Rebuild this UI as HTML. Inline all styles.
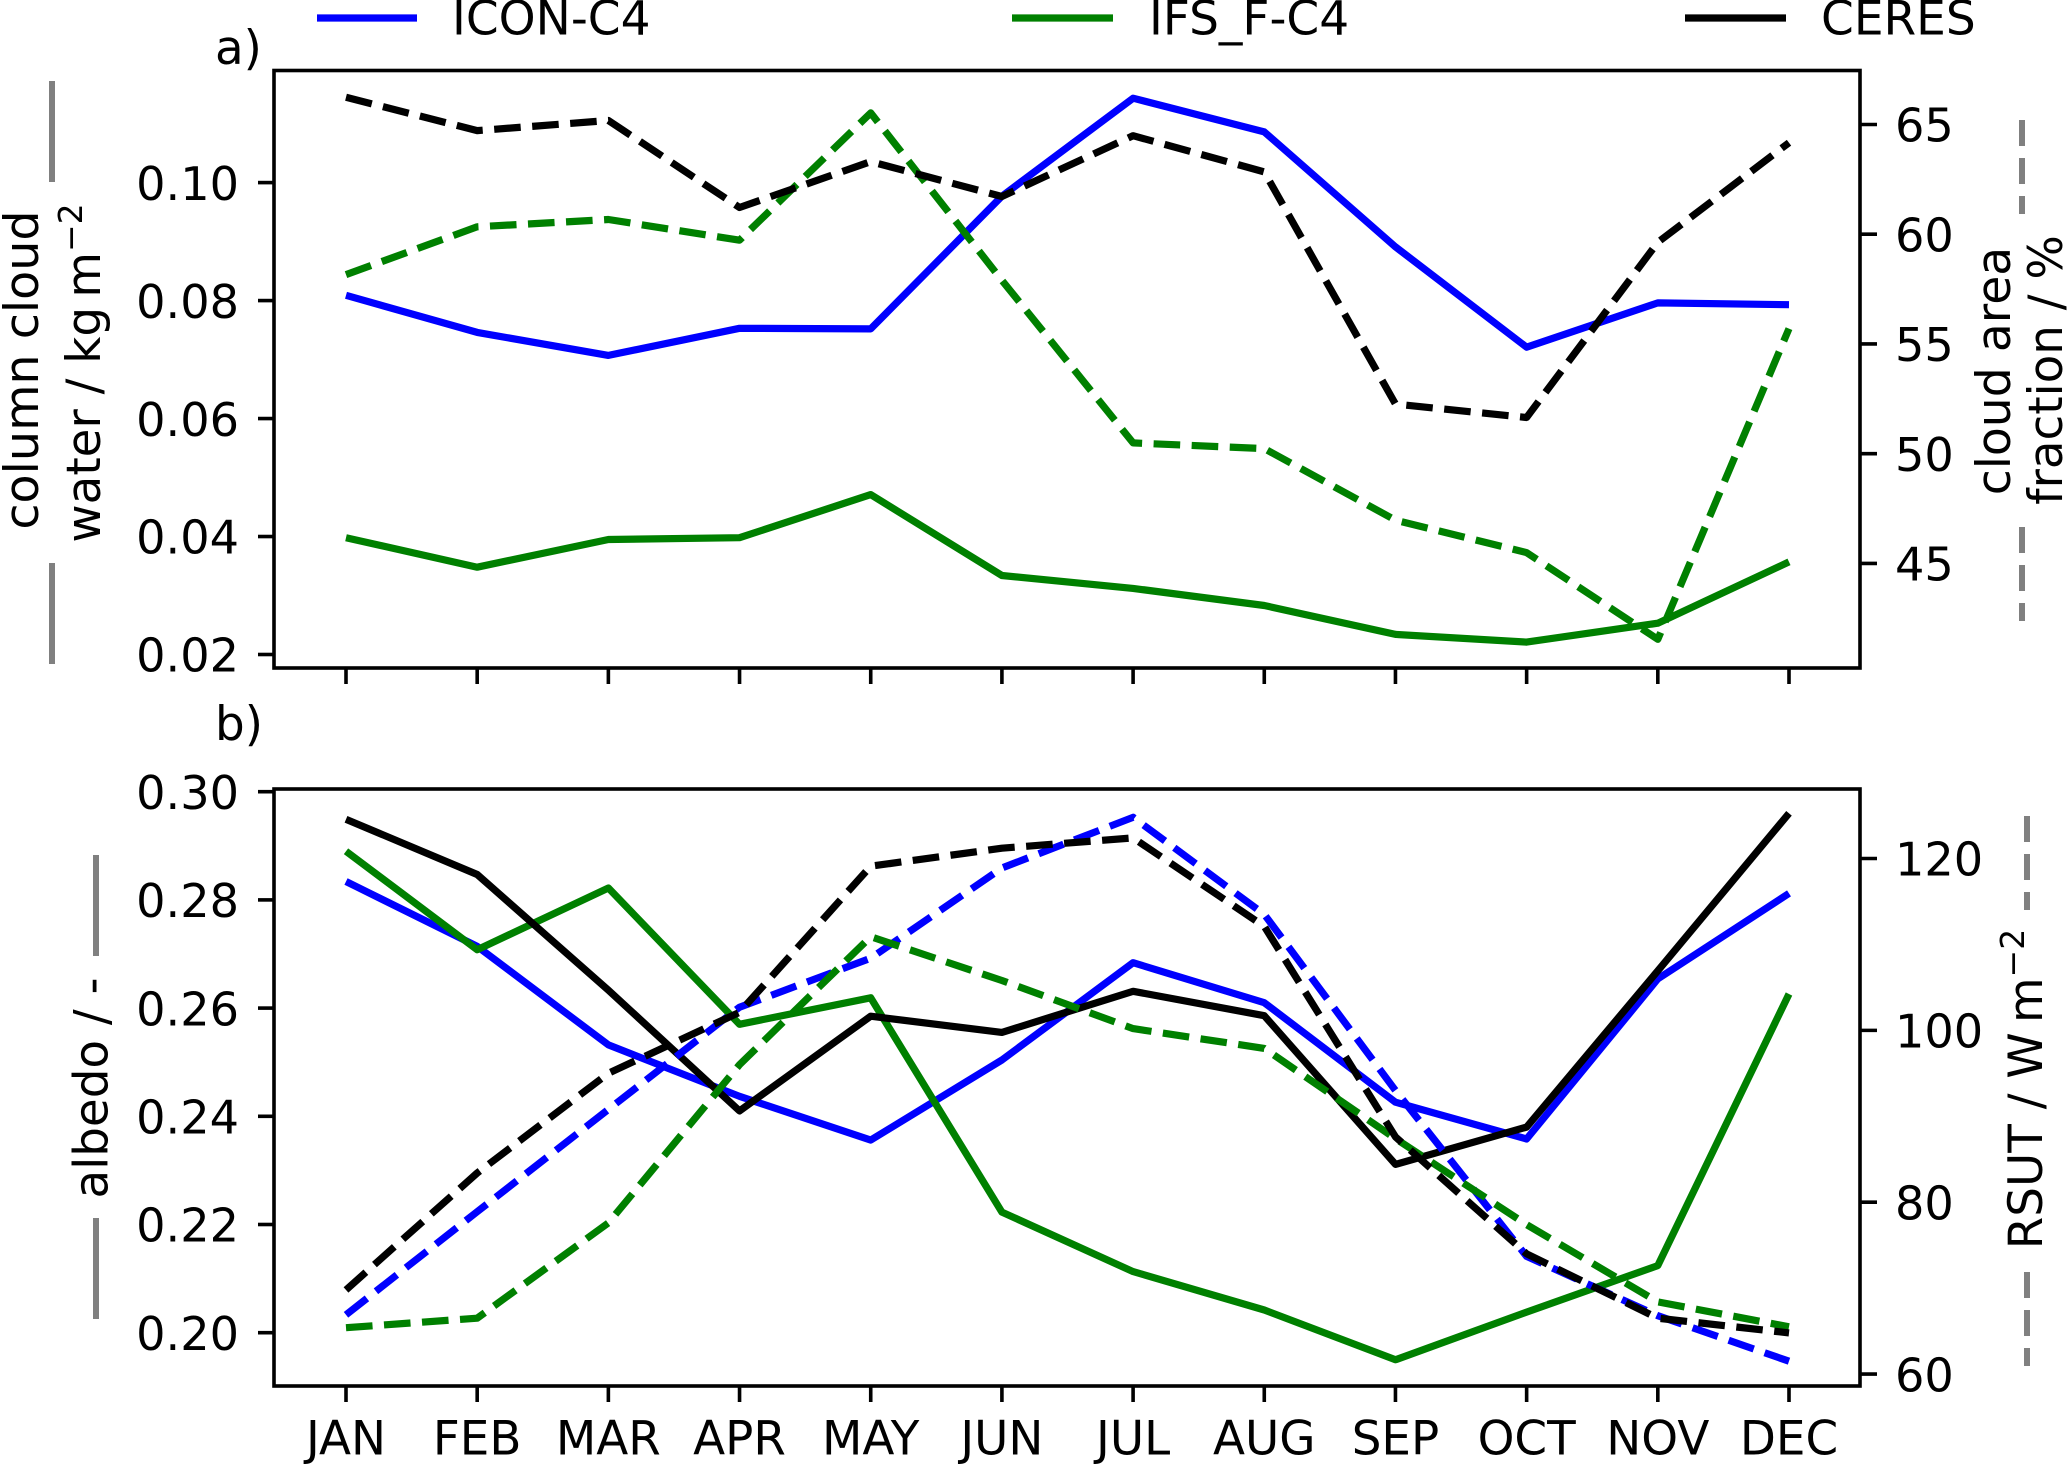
<!DOCTYPE html>
<html lang="en">
<head>
<meta charset="utf-8">
<title>Monthly cloud water, cloud fraction, albedo and RSUT</title>
<style>
html,body{margin:0;padding:0;background:#fff;width:2067px;height:1465px;overflow:hidden}
svg{display:block}
text{font-family:"DejaVu Sans","Liberation Sans",sans-serif;font-size:46.8px;fill:#000}
</style>
</head>
<body>
<svg id="chart" xmlns="http://www.w3.org/2000/svg" width="2067" height="1465" viewBox="0 0 2067 1465">
  <rect x="0" y="0" width="2067" height="1465" fill="#fff"/>

  <g>
    <line x1="317" x2="417" y1="18" y2="18" stroke="#0000ff" stroke-width="7.2"/>
    <text x="452" y="34.5" font-size="47" style="font-size:47px">ICON-C4</text>
    <line x1="1012" x2="1113" y1="18" y2="18" stroke="#008000" stroke-width="7.2"/>
    <text x="1149" y="34.5" style="font-size:47px">IFS_F-C4</text>
    <line x1="1685" x2="1786" y1="18" y2="18" stroke="#000" stroke-width="7.2"/>
    <text x="1821" y="34.5" style="font-size:47px">CERES</text>
  </g>

  <text x="215" y="64">a)</text>
  <text x="215" y="740">b)</text>

  <g>
    <text text-anchor="middle" transform="translate(38,370) rotate(-90)" style="font-size:47.6px">column cloud</text>
    <text text-anchor="middle" transform="translate(100,373) rotate(-90)">water / kg&#8201;m<tspan dy="-18" style="font-size:33px">−2</tspan></text>
    <line x1="52" x2="52" y1="81" y2="182" stroke="#808080" stroke-width="6"/>
    <line x1="52" x2="52" y1="563" y2="664" stroke="#808080" stroke-width="6"/>
  </g>
  <g>
    <text text-anchor="middle" transform="translate(2010,371) rotate(-90)" style="font-size:47.3px">cloud area</text>
    <text text-anchor="middle" transform="translate(2062,370) rotate(-90)">fraction / %</text>
    <line x1="2022" x2="2022" y1="120" y2="214" stroke="#808080" stroke-width="6" stroke-dasharray="26 12"/>
    <line x1="2022" x2="2022" y1="527" y2="621" stroke="#808080" stroke-width="6" stroke-dasharray="26 12"/>
  </g>
  <g>
    <text text-anchor="middle" transform="translate(107.5,1088) rotate(-90)">albedo / -</text>
    <line x1="96" x2="96" y1="855" y2="956" stroke="#808080" stroke-width="6"/>
    <line x1="96" x2="96" y1="1218" y2="1319" stroke="#808080" stroke-width="6"/>
  </g>
  <g>
    <text text-anchor="middle" transform="translate(2042,1089) rotate(-90)">RSUT / W&#8201;m<tspan dy="-18" style="font-size:33px">−2</tspan></text>
    <line x1="2027" x2="2027" y1="816" y2="910" stroke="#808080" stroke-width="6" stroke-dasharray="26 12"/>
    <line x1="2027" x2="2027" y1="1272" y2="1366" stroke="#808080" stroke-width="6" stroke-dasharray="26 12"/>
  </g>
  <g id="plots"></g>
</svg>
<script>
const months = ['JAN','FEB','MAR','APR','MAY','JUN','JUL','AUG','SEP','OCT','NOV','DEC'];

const cloudWaterTicks = [0.02,0.04,0.06,0.08,0.10];
const cloudFractionTicks = [45,50,55,60,65];
const albedoTicks = [0.20,0.22,0.24,0.26,0.28,0.30];
const rsutTicks = [60,80,100,120];

const cloudWaterIcon = [0.0809,0.0746,0.0707,0.0753,0.0752,0.0977,0.1143,0.1086,0.0891,0.0721,0.0796,0.0793];
const cloudWaterIfs = [0.0398,0.0348,0.0395,0.0398,0.0471,0.0334,0.0312,0.0283,0.0234,0.0221,0.0253,0.0357];
const cloudFractionIfs = [58.16,60.34,60.67,59.73,65.53,57.9,50.49,50.23,46.97,45.49,41.54,55.7];
const cloudFractionCeres = [66.24,64.72,65.18,61.22,63.31,61.72,64.49,62.84,52.26,51.65,59.63,64.17];

const albedoIcon = [0.2834,0.2714,0.2532,0.2437,0.2356,0.2504,0.2684,0.2610,0.2426,0.2358,0.2654,0.2812];
const albedoIfs = [0.2890,0.2708,0.2822,0.2570,0.2619,0.2223,0.2113,0.2042,0.1950,0.2038,0.2124,0.2626];
const albedoCeres = [0.2949,0.2847,0.2633,0.2410,0.2585,0.2555,0.2631,0.2586,0.2311,0.2380,0.2669,0.2960];
const rsutIcon = [66.9,78.9,90.8,102.7,108.4,118.9,124.8,113.5,93.0,73.7,66.8,61.5];
const rsutIfs = [65.4,66.5,77.6,96.0,110.9,105.8,100.2,97.9,87.4,77.4,68.4,65.5];
const rsutCeres = [69.8,83.4,95.0,102.1,119.1,121.2,122.4,112.1,87.6,74.0,66.5,64.8];

const BLUE = '#0000ff', GREEN = '#008000', BLACK = '#000000';
const PLOT_LEFT = 274, PLOT_RIGHT = 1860;
const SVG_NS = 'http://www.w3.org/2000/svg';

function xMonth(i){ return 346 + i * (1789 - 346) / 11; }
function yCloudWater(v){ return 654.5 - (v - 0.02) * (654.5 - 182.6) / 0.08; }
function yCloudFraction(v){ return 563.4 - (v - 45) * (563.4 - 124.5) / 20; }
function yAlbedo(v){ return 1332.7 - (v - 0.20) * (1332.7 - 791.7) / 0.10; }
function yRsut(v){ return 1374.1 - (v - 60) * (1374.1 - 858.5) / 60; }

const plots = document.getElementById('plots');

function make(tag, parent, attrs, content){
  const el = document.createElementNS(SVG_NS, tag);
  for (const k in attrs) el.setAttribute(k, attrs[k]);
  if (content !== undefined) el.textContent = content;
  parent.appendChild(el);
  return el;
}

function drawSeries(parent, name, values, yFn, color, dashed){
  const pts = values.map((v, i) => xMonth(i).toFixed(1) + ',' + yFn(v).toFixed(1)).join(' ');
  const line = make('polyline', parent, {
    points: pts, fill: 'none', stroke: color, 'stroke-width': 7.2,
    'stroke-linejoin': 'round', 'stroke-dasharray': dashed ? '26.6 11.5' : 'none'
  });
  
  
}

function drawYTicks(parent, name, ticks, yFn, side, digits){
  ticks.forEach(t => {
    const y = yFn(t);
    const x1 = side === 'left' ? PLOT_LEFT : PLOT_RIGHT;
    const x2 = side === 'left' ? PLOT_LEFT - 16 : PLOT_RIGHT + 17;
    const tick = make('line', parent, {x1: x1, x2: x2, y1: y, y2: y, stroke: '#000', 'stroke-width': 3.6});
    
    
    const label = make('text', parent, {
      x: side === 'left' ? 239 : 1895, y: y + 17.2,
      'text-anchor': side === 'left' ? 'end' : 'start',
      style: 'font-size:46.2px'
    }, t.toFixed(digits));
    
    
  });
}

function drawXTicks(parent, name, bottom, withLabels){
  months.forEach((m, i) => {
    const x = xMonth(i);
    const tick = make('line', parent, {x1: x, x2: x, y1: bottom, y2: bottom + 16, stroke: '#000', 'stroke-width': 3.6});
    
    
    if (withLabels) {
      const label = make('text', parent, {x: x, y: 1454.5, 'text-anchor': 'middle'}, m);
      
      
    }
  });
}

function drawFrame(parent, name, top, bottom){
  const frame = make('rect', parent, {
    x: PLOT_LEFT, y: top, width: PLOT_RIGHT - PLOT_LEFT, height: bottom - top,
    fill: 'none', stroke: '#000', 'stroke-width': 3.6
  });
  
  
}

const panelA = make('g', plots, {});


drawSeries(panelA, 'icon-cloud-water-line', cloudWaterIcon, yCloudWater, BLUE, false);
drawSeries(panelA, 'ifs-cloud-water-line', cloudWaterIfs, yCloudWater, GREEN, false);
drawSeries(panelA, 'ifs-cloud-fraction-line', cloudFractionIfs, yCloudFraction, GREEN, true);
drawSeries(panelA, 'ceres-cloud-fraction-line', cloudFractionCeres, yCloudFraction, BLACK, true);
drawYTicks(panelA, 'cloud-water', cloudWaterTicks, yCloudWater, 'left', 2);
drawYTicks(panelA, 'cloud-fraction', cloudFractionTicks, yCloudFraction, 'right', 0);
drawXTicks(panelA, 'panel-a', 668, false);
drawFrame(panelA, 'panel-a-frame', 70.5, 668);

const panelB = make('g', plots, {});


drawSeries(panelB, 'icon-albedo-line', albedoIcon, yAlbedo, BLUE, false);
drawSeries(panelB, 'ifs-albedo-line', albedoIfs, yAlbedo, GREEN, false);
drawSeries(panelB, 'ceres-albedo-line', albedoCeres, yAlbedo, BLACK, false);
drawSeries(panelB, 'icon-rsut-line', rsutIcon, yRsut, BLUE, true);
drawSeries(panelB, 'ifs-rsut-line', rsutIfs, yRsut, GREEN, true);
drawSeries(panelB, 'ceres-rsut-line', rsutCeres, yRsut, BLACK, true);
drawYTicks(panelB, 'albedo', albedoTicks, yAlbedo, 'left', 2);
drawYTicks(panelB, 'rsut', rsutTicks, yRsut, 'right', 0);
drawXTicks(panelB, 'panel-b', 1386, true);
drawFrame(panelB, 'panel-b-frame', 789, 1386);
</script>
</body>
</html>
